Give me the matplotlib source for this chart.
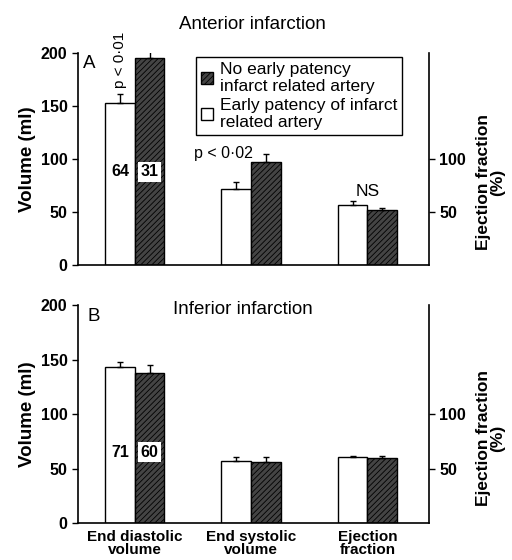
import matplotlib
matplotlib.use('Agg')
import matplotlib.pyplot as plt
import numpy as np
from matplotlib.patches import Patch

plt.rcParams['font.family'] = ['Liberation Sans', 'DejaVu Sans']
plt.rcParams['hatch.linewidth'] = 0.6

categories = ['End diastolic\nvolume', 'End systolic\nvolume', 'Ejection\nfraction']

# Panel A: anterior infarction
ant_patent = [153, 72, 57]
ant_patent_err = [8, 6, 3]
ant_occluded = [195, 97, 52]
ant_occluded_err = [11, 8, 2]

# Panel B: inferior infarction
inf_patent = [143, 57, 61]
inf_patent_err = [5, 4, 1]
inf_occluded = [138, 56, 60]
inf_occluded_err = [7, 5, 1.5]

n_patent = [64, 71]
n_occluded = [31, 60]

fig = plt.figure(figsize=(5.12, 5.6), dpi=100)
axA = fig.add_axes([0.152, 0.527, 0.686, 0.378])
axB = fig.add_axes([0.152, 0.066, 0.686, 0.389])

x = np.arange(len(categories))
w = 0.255
hatch_face = '#444444'


def draw_panel(ax, patent, perr, occl, oerr, n_p, n_o, letter, show_x):
    ax.bar(x - w / 2, patent, w, color='white', edgecolor='black', linewidth=1)
    ax.bar(x + w / 2, occl, w, color=hatch_face, edgecolor='black',
           hatch='//////', linewidth=1)
    ax.errorbar(x - w / 2, patent, yerr=[np.zeros(3), perr], fmt='none',
                ecolor='black', elinewidth=1, capsize=2)
    ax.errorbar(x + w / 2, occl, yerr=[np.zeros(3), oerr], fmt='none',
                ecolor='black', elinewidth=1, capsize=2)
    ax.set_xlim(-0.49, 2.53)
    ax.set_ylim(0, 200)
    ax.set_yticks([0, 50, 100, 150, 200])
    ax.spines['top'].set_visible(False)
    ax.spines['right'].set_visible(False)
    for s in ['left', 'bottom']:
        ax.spines[s].set_linewidth(1.2)
    ax.tick_params(axis='y', direction='out', length=4, width=1,
                   labelsize=11.5)
    for t in ax.get_yticklabels():
        t.set_fontweight('bold')
    ax.set_xticks(x)
    if show_x:
        ax.set_xticklabels(categories, fontsize=11, fontweight='bold',
                           linespacing=0.95)
    else:
        ax.set_xticklabels([])
    ax.tick_params(axis='x', length=0, pad=5)
    ax.set_ylabel('Volume (ml)', fontsize=13.5, fontweight='bold', labelpad=3)
    ax.text(-0.39 if letter == 'A' else -0.35, 190, letter, fontsize=13.5,
            ha='center', va='center')
    # numbers of patients inside first pair of bars
    ypos = 88 if letter == 'A' else 65
    ax.text(-w / 2, ypos, str(n_p), fontsize=11.5, fontweight='bold',
            ha='center', va='center')
    ax.text(w / 2, ypos, str(n_o), fontsize=11.5, fontweight='bold',
            ha='center', va='center',
            bbox=dict(boxstyle='square,pad=0.15', facecolor='white',
                      edgecolor='none'))

    # right ejection fraction axis
    ax2 = ax.twinx()
    ax2.set_ylim(0, 200)
    ax2.set_yticks([50, 100])
    for s in ['top', 'left', 'bottom']:
        ax2.spines[s].set_visible(False)
    ax2.spines['right'].set_linewidth(1.2)
    ax2.tick_params(axis='y', direction='out', length=4, width=1,
                    labelsize=11.5)
    for t in ax2.get_yticklabels():
        t.set_fontweight('bold')
    ax.text(1.175, 0.39, 'Ejection fraction\n(%)', transform=ax.transAxes,
            rotation=90, ha='center', va='center', fontsize=12.5,
            fontweight='bold', linespacing=1.0)


draw_panel(axA, ant_patent, ant_patent_err, ant_occluded, ant_occluded_err,
           n_patent[0], n_occluded[0], 'A', False)
draw_panel(axB, inf_patent, inf_patent_err, inf_occluded, inf_occluded_err,
           n_patent[1], n_occluded[1], 'B', True)

# titles
fig.text(0.494, 0.957, 'Anterior infarction', fontsize=13.5, ha='center',
         va='center')
axB.text(0.93, 196, 'Inferior infarction', fontsize=13.5, ha='center',
         va='center')

# significance labels
axA.text(-w / 2, 194, 'p < 0·01', rotation=90, fontsize=11,
         ha='center', va='center')
axA.text(0.76, 105, 'p < 0·02', fontsize=11.5, ha='center', va='center')
axA.text(2.0, 69, 'NS', fontsize=12.5, ha='center', va='center')

# legend
handles = [
    Patch(facecolor=hatch_face, edgecolor='black', hatch='//////',
          label='No early patency\ninfarct related artery'),
    Patch(facecolor='white', edgecolor='black',
          label='Early patency of infarct\nrelated artery'),
]
leg = axA.legend(handles=handles, loc='upper left',
                 bbox_to_anchor=(0.312, 1.025), fontsize=12.5,
                 handlelength=0.7, handleheight=0.7, handletextpad=0.35,
                 labelspacing=0.2, borderpad=0.3, fancybox=False,
                 framealpha=1, edgecolor='black')
leg.get_frame().set_linewidth(1)

fig.savefig('out.png', dpi=100)
plt.close(fig)
